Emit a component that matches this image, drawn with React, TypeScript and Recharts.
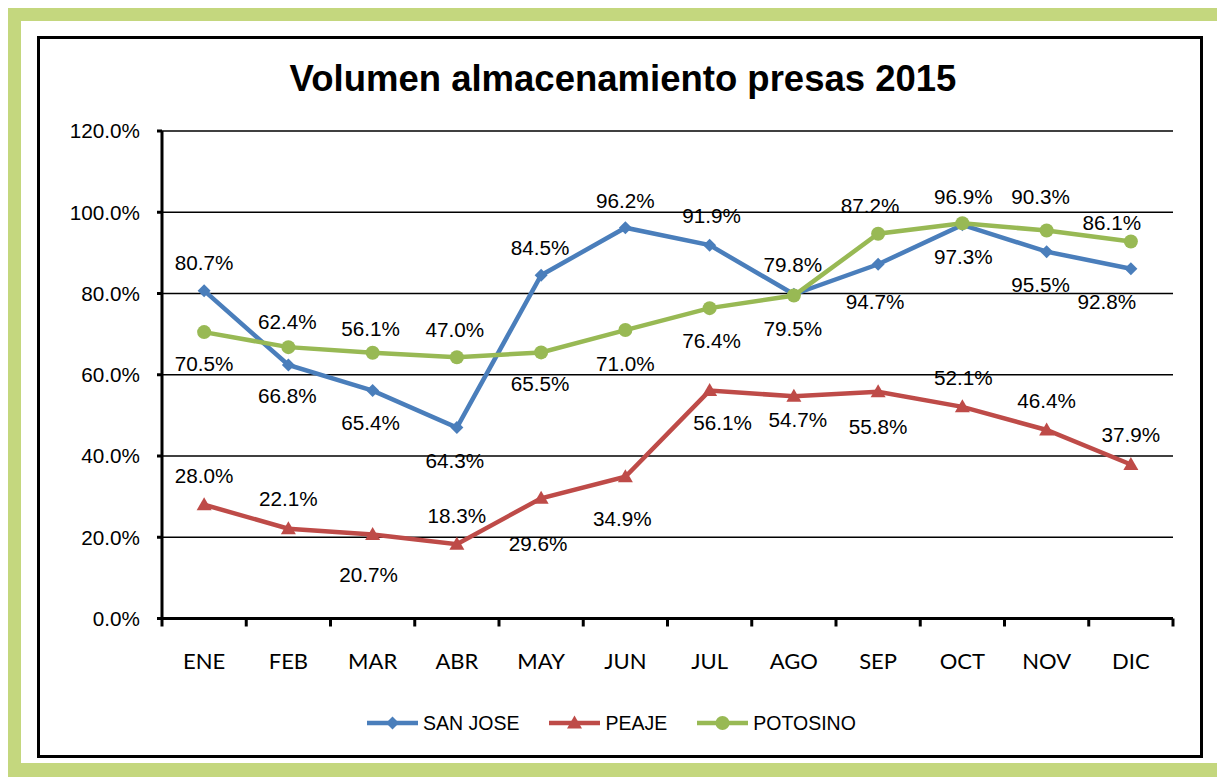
import React from 'react';
import { LineChart, Line, XAxis, YAxis, CartesianGrid, LabelList } from 'recharts';

// ---------- data ----------
const months = ['ENE', 'FEB', 'MAR', 'ABR', 'MAY', 'JUN', 'JUL', 'AGO', 'SEP', 'OCT', 'NOV', 'DIC'];
const sanJose = [80.7, 62.4, 56.1, 47.0, 84.5, 96.2, 91.9, 79.8, 87.2, 96.9, 90.3, 86.1];
const peaje = [28.0, 22.1, 20.7, 18.3, 29.6, 34.9, 56.1, 54.7, 55.8, 52.1, 46.4, 37.9];
const potosino = [70.5, 66.8, 65.4, 64.3, 65.5, 71.0, 76.4, 79.5, 94.7, 97.3, 95.5, 92.8];
const yTicks = [0, 20, 40, 60, 80, 100, 120];
const seriesKeys = ['sanJose', 'peaje', 'potosino'];
const seriesNames = ['SAN JOSE', 'PEAJE', 'POTOSINO'];
const title = 'Volumen almacenamiento presas 2015';

// ---------- style ----------
const seriesColors = ['#4A7EBB', '#BE4B48', '#98B954'];
const seriesShapes = ['diamond', 'triangle', 'circle'];
// hand-placed label offsets (px) as in the original chart
const sanJoseLabelDx = [0, -1, -2, -2, -1, 0, 2, -1, -8, 1, -6, -19];
const sanJoseLabelDy = [-28, -44, -62, -98, -28, -27, -30, -30, -59, -28, -55, -46];
const peajeLabelDx = [0, 0, -4, 0, -3, -3, 13, 4, 0, 1, 0, 0];
const peajeLabelDy = [-29, -30, 40, -29, 45, 42, 32, 23, 35, -29, -30, -30];
const potosinoLabelDx = [0, -1, -2, -2, -1, 0, 2, -1, -3, 1, -6, -24];
const potosinoLabelDy = [31, 48, 70, 103, 31, 33, 32, 33, 68, 33, 54, 60];
const labelDx = [sanJoseLabelDx, peajeLabelDx, potosinoLabelDx];
const labelDy = [sanJoseLabelDy, peajeLabelDy, potosinoLabelDy];

const ARIAL = '"Liberation Sans", Arial, sans-serif';
const CALIBRI = 'Lato, "Open Sans", sans-serif';

const data = months.map((m, i) => ({
  month: m,
  sanJose: sanJose[i],
  peaje: peaje[i],
  potosino: potosino[i],
}));

const W = 1217;
const H = 769;
const MARGIN = { top: 123, right: 52, bottom: 118.5, left: 74 };
const Y_AXIS_W = 80;
const X_AXIS_H = 40;
const PLOT_W = W - MARGIN.left - Y_AXIS_W - MARGIN.right;
const STEP = PLOT_W / months.length;

const fmt = (v: number) => v.toFixed(1) + '%';

function markerPath(shape: string, cx: number, cy: number) {
  if (shape === 'diamond') {
    const r = 6.5;
    return `M${cx},${cy - r}L${cx + r},${cy}L${cx},${cy + r}L${cx - r},${cy}Z`;
  }
  return `M${cx},${cy - 7.5}L${cx + 7.5},${cy + 5.5}L${cx - 7.5},${cy + 5.5}Z`;
}

function Marker({ shape, cx, cy, color }: { shape: string; cx: number; cy: number; color: string }) {
  if (shape === 'circle') return <circle cx={cx} cy={cy} r={7} fill={color} />;
  return <path d={markerPath(shape, cx, cy)} fill={color} />;
}

const makeDot = (si: number) => (props: any) => {
  const { cx, cy, index } = props;
  if (cx == null || cy == null) return <g key={`d-${si}-${index}`} />;
  return (
    <g key={`d-${si}-${index}`}>
      <Marker shape={seriesShapes[si]} cx={cx} cy={cy} color={seriesColors[si]} />
    </g>
  );
};

const makeLabel = (si: number) => (props: any) => {
  const vb = props.viewBox || {};
  const x = props.x ?? vb.x;
  const y = props.y ?? vb.y;
  const index = props.index;
  if (x == null || y == null) return null;
  return (
    <text
      key={`l-${si}-${index}`}
      x={x + labelDx[si][index]}
      y={y + labelDy[si][index]}
      textAnchor="middle"
      dominantBaseline="central"
      fontSize={20.7}
      fontFamily={ARIAL}
      fill="#000"
    >
      {fmt(Number(props.value))}
    </text>
  );
};

const XTick = (props: any) => {
  const { x, y, payload, index } = props;
  const left = x - STEP / 2;
  const right = x + STEP / 2;
  return (
    <g>
      <line x1={left} x2={left} y1={y} y2={y + 8} stroke="#000" strokeWidth={3} />
      {index === months.length - 1 && (
        <line x1={right} x2={right} y1={y} y2={y + 8} stroke="#000" strokeWidth={3} />
      )}
      <text
        x={x}
        y={y + 42}
        textAnchor="middle"
        dominantBaseline="central"
        fontSize={22}
        fontFamily={CALIBRI}
        fill="#000"
      >
        {payload.value}
      </text>
    </g>
  );
};

function LegendBox() {
  return (
    <div
      style={{
        position: 'absolute',
        left: 359,
        top: 703,
        height: 24,
        display: 'flex',
        alignItems: 'center',
        whiteSpace: 'nowrap',
      }}
    >
      {seriesNames.map((n, i) => (
        <div key={n} style={{ display: 'flex', alignItems: 'center', marginRight: 30 }}>
          <svg width={51} height={18} style={{ display: 'block' }}>
            <line x1={0} x2={51} y1={9} y2={9} stroke={seriesColors[i]} strokeWidth={4.5} />
            <Marker shape={seriesShapes[i]} cx={25.5} cy={9} color={seriesColors[i]} />
          </svg>
          <span style={{ marginLeft: 5, fontSize: 19.5, fontFamily: ARIAL, color: '#000', lineHeight: '24px' }}>
            {n}
          </span>
        </div>
      ))}
    </div>
  );
}

export default function App() {
  return (
    <div style={{ position: 'relative', width: W, height: H, background: '#fff' }}>
      <style>{'html,body{overflow:hidden;}'}</style>
      <div
        style={{
          position: 'absolute',
          left: 0,
          top: 0,
          width: W,
          height: H,
          boxSizing: 'border-box',
          borderStyle: 'solid',
          borderColor: '#C4D77E',
          borderWidth: '13px 7px 14px 13px',
        }}
      />
      <div
        style={{
          position: 'absolute',
          left: 29,
          top: 28,
          width: 1166,
          height: 722,
          boxSizing: 'border-box',
          border: '3.5px solid #000',
        }}
      />
      <div
        style={{
          position: 'absolute',
          left: 215,
          top: 53,
          width: 800,
          textAlign: 'center',
          fontFamily: ARIAL,
          fontWeight: 'bold',
          fontSize: 36.5,
          lineHeight: '36.5px',
          color: '#000',
          whiteSpace: 'nowrap',
        }}
      >
        {title}
      </div>
      <div style={{ position: 'absolute', left: 0, top: 0 }}>
        <LineChart width={W} height={H} data={data} margin={MARGIN}>
          <CartesianGrid vertical={false} stroke="#000" strokeWidth={1.3} />
          <XAxis
            dataKey="month"
            height={X_AXIS_H}
            padding={{ left: STEP / 2, right: STEP / 2 }}
            axisLine={{ stroke: '#000', strokeWidth: 3 }}
            tickLine={false}
            tickSize={0}
            tickMargin={0}
            interval={0}
            tick={<XTick />}
          />
          <XAxis
            xAxisId="top"
            dataKey="month"
            orientation="top"
            height={0}
            padding={{ left: STEP / 2, right: STEP / 2 }}
            axisLine={{ stroke: '#000', strokeWidth: 3 }}
            tickLine={false}
            tick={false}
          />
          <YAxis
            width={Y_AXIS_W}
            domain={[0, 120]}
            ticks={yTicks}
            interval={0}
            tickFormatter={fmt}
            axisLine={{ stroke: '#000', strokeWidth: 3 }}
            tickLine={{ stroke: '#000', strokeWidth: 3 }}
            tickSize={5}
            tickMargin={17}
            tick={{ fill: '#000', fontSize: 20.7, fontFamily: ARIAL }}
          />
          <YAxis
            yAxisId="right"
            orientation="right"
            width={0}
            domain={[0, 120]}
            dataKey="sanJose"
            axisLine={{ stroke: '#000', strokeWidth: 3 }}
            tickLine={false}
            tick={false}
          />
          {seriesKeys.map((k, si) => (
            <Line
              key={k}
              dataKey={k}
              name={seriesNames[si]}
              stroke={seriesColors[si]}
              strokeWidth={4.5}
              dot={makeDot(si)}
              activeDot={false}
              isAnimationActive={false}
            >
              <LabelList dataKey={k} content={makeLabel(si)} />
            </Line>
          ))}
        </LineChart>
      </div>
      <LegendBox />
    </div>
  );
}
